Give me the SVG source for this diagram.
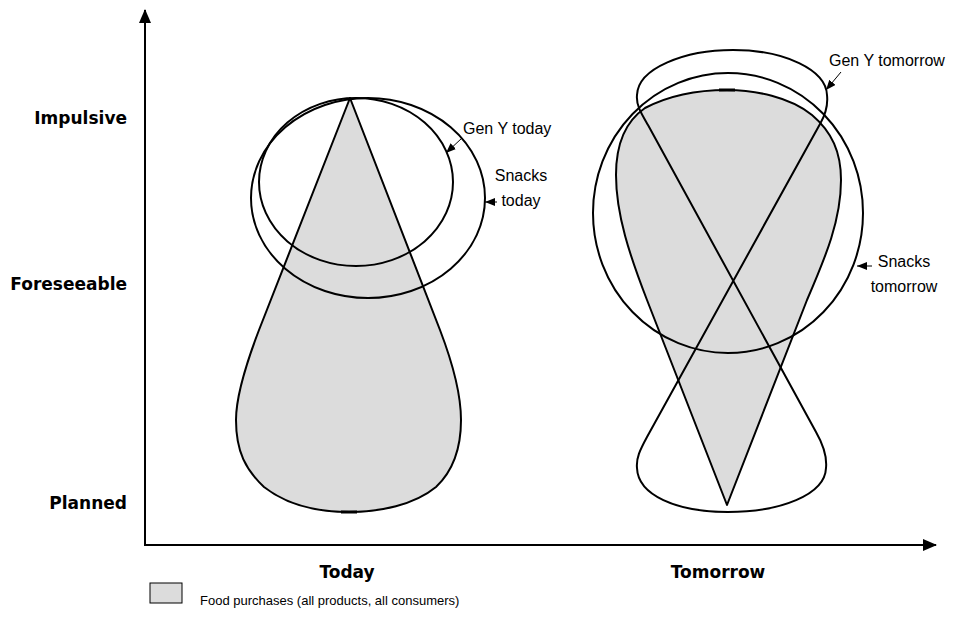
<svg xmlns="http://www.w3.org/2000/svg" width="979" height="635" viewBox="0 0 979 635">
<style>
.ol{fill:none;stroke:#000;stroke-width:2}
.gray{fill:#dcdcdc;stroke:#000;stroke-width:2;stroke-linejoin:round}
.ax{fill:none;stroke:#000;stroke-width:2}
.ptr{fill:none;stroke:#000;stroke-width:1}
.tick{stroke:#000;stroke-width:3}
.b{font-family:"DejaVu Sans",sans-serif;font-weight:bold;font-size:17px;fill:#000}
.r{font-family:"Liberation Sans",Arial,sans-serif;font-size:16px;fill:#000}
.lg{font-family:"Liberation Sans",Arial,sans-serif;font-size:13px;fill:#000}
</style>
<defs>
<marker id="ah" markerWidth="14" markerHeight="12" refX="13" refY="6" orient="auto" markerUnits="userSpaceOnUse"><path d="M0,0 L14,6 L0,12 Z"/></marker>
<marker id="ps" markerWidth="10" markerHeight="8" refX="10" refY="4" orient="auto" markerUnits="userSpaceOnUse"><path d="M0,0 L10,4 L0,8 Z"/></marker>
</defs>

<g id="axes">
<path class="ax" d="M145,546 L145,10" marker-end="url(#ah)"/>
<path class="ax" d="M144,545 L936,545" marker-end="url(#ah)"/>
<text class="b" x="127" y="124" text-anchor="end">Impulsive</text>
<text class="b" x="127" y="290" text-anchor="end">Foreseeable</text>
<text class="b" x="127" y="509" text-anchor="end">Planned</text>
<text class="b" x="347" y="578" text-anchor="middle">Today</text>
<text class="b" x="718" y="578" text-anchor="middle">Tomorrow</text>
</g>

<g id="food-today">
<path class="gray" d="M350,98 L259,330 C246,364 236,395 236,420 C236,452 246,470 264,487 C287,505 318,512 349,512 C380,512 414,505 436,487 C453,471 461,450 461,420 C461,395 453,364 440,330 Z"/>
<line class="tick" x1="341" y1="512" x2="357" y2="512"/>
</g>

<g id="food-tomorrow">
<path class="gray" d="M727,505 L647,300 C630,256 616,215 616,175 C616,142 626,121 645,108 C670,95 700,90 727,90 C755,90 790,97 812,115 C832,132 841,152 841,180 C841,220 826,256 807,300 Z"/>
<line class="tick" x1="719" y1="90" x2="735" y2="90"/>
</g>

<g id="genY-today">
<ellipse class="ol" cx="356" cy="182" rx="97" ry="84"/>
</g>

<g id="snacks-today">
<ellipse class="ol" cx="368" cy="198" rx="117" ry="100"/>
</g>

<g id="snacks-tomorrow">
<ellipse class="ol" cx="728" cy="213" rx="135" ry="140"/>
</g>

<g id="genY-tomorrow">
<path class="ol" d="M648,125 L816,432 C824,446 827,458 826,468 C825,495 780,512 728,512 C676,512 638,495 637,468 C636,458 640,450 647,437 L820,124 C827,112 828,104 827,95 C826,70 785,50 733,50 C685,50 638,68 637,95 C636,105 641,113 648,125 Z"/>
</g>

<g id="labels">
<text class="r" x="463" y="134">Gen Y today</text>
<text class="r" x="521" y="181" text-anchor="middle">Snacks</text>
<text class="r" x="521" y="206" text-anchor="middle">today</text>
<text class="r" x="829" y="66">Gen Y tomorrow</text>
<text class="r" x="904" y="267" text-anchor="middle">Snacks</text>
<text class="r" x="904" y="292" text-anchor="middle">tomorrow</text>
</g>

<g id="connectors">
<path class="ptr" d="M462,138 L446,153" marker-end="url(#ps)"/>
<path class="ptr" d="M497,202 L485,202" marker-end="url(#ps)"/>
<path class="ptr" d="M841,72 L826,90" marker-end="url(#ps)"/>
<path class="ptr" d="M872,266 L857,266" marker-end="url(#ps)"/>
</g>

<g id="legend">
<rect x="150" y="583" width="32" height="20" fill="#dcdcdc" stroke="#000" stroke-width="1"/>
<text class="lg" x="200" y="605">Food purchases (all products, all consumers)</text>
</g>
</svg>
